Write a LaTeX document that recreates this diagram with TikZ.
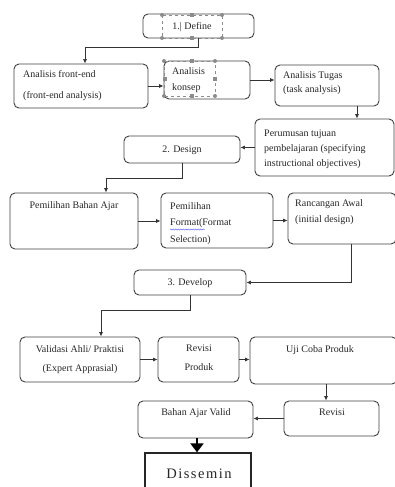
\documentclass[tikz,border=0pt]{standalone}
\usepackage{fontspec}
\setmainfont{Liberation Serif}
\usetikzlibrary{arrows.meta,decorations.pathmorphing}
\begin{document}
\begin{tikzpicture}[x=1pt,y=-1pt]
	\tikzstyle{every node}+=[inner sep=0pt, text=black!85]
	\tikzstyle{box}=[draw=black!75, line width=0.9pt, rounded corners=5pt]
	\tikzstyle{flow}=[draw=black!80, line width=0.7pt, -{Latex[length=4.5pt,width=4pt]}]
	\tikzstyle{sel}=[draw=black!45, dashed, line width=0.4pt]
	\tikzset{txt/.style={font=\fontsize{10}{#1}\selectfont, align=left},
		ctxt/.style={font=\fontsize{10}{#1}\selectfont, align=center}}
	\useasboundingbox (0,0) rectangle (395,487);
	\clip (0,0) rectangle (395,487);
	% define
	\node [box, minimum width=111, minimum height=24] (define) at (198.5,26) {};
	\node [ctxt=12] (defineT) at (192,27) {1.| Define};
	\draw [sel] (162,15) rectangle (222,38);
	\foreach \x in {162,222} \foreach \y in {15,38}
		\fill [black!45] (\x,\y) circle (2);
	\foreach \y in {15,38}
		\fill [black!45] (190,\y-2) rectangle (194,\y+2);
	\node [box, minimum width=134, minimum height=44] (fe) at (81,86) {};
	\node [txt=21, anchor=north west] (feT) at (23,70) {Analisis front-end\\(front-end analysis)};
	\node [box, minimum width=86, minimum height=38] (konsep) at (207,80) {};
	\node [txt=16, anchor=north west] (konsepT) at (172,67) {Analisis\\konsep};
	\draw [sel] (164,61) rectangle (215,96);
	\foreach \x in {164,215} \foreach \y in {61,96}
		\fill [black!45] (\x,\y) circle (2);
	\foreach \p in {(192,61),(192,96),(164.5,79),(215,79)}
		\fill [black!45] \p +(-2,-2) rectangle +(2,2);
	\node [box, minimum width=104, minimum height=41] (tugas) at (327,85.5) {};
	\node [txt=14, anchor=north west] (tugasT) at (283,71) {Analisis Tugas\\(task analysis)};
	\node [box, minimum width=139, minimum height=57] (rumus) at (324.5,147.5) {};
	\node [txt=15, anchor=north west] (rumusT) at (264,130) {Perumusan tujuan\\pembelajaran (specifying\\instructional objectives)};
	% design
	\node [box, minimum width=116, minimum height=27] (design) at (182,149.5) {};
	\node [ctxt=12] (designT) at (182,150) {2. Design};
	\node [box, minimum width=128, minimum height=56] (bahan) at (74,221) {};
	\node [ctxt=12] (bahanT) at (74,206) {Pemilihan Bahan Ajar};
	\node [box, minimum width=112, minimum height=55] (format) at (217,220.5) {};
	\node [txt=16.5, anchor=north west] (formatT) at (170,202) {Pemilihan\\Format(Format\\Selection)};
	\draw [blue!70, line width=0.4pt, decorate, decoration={snake, amplitude=0.6pt, segment length=2.5pt}] (170,229.5) -- (205,229.5);
	\node [box, minimum width=108, minimum height=51] (rancang) at (342,218.5) {};
	\node [txt=16, anchor=north west] (rancangT) at (295,199) {Rancangan Awal\\(initial design)};
	% develop
	\node [box, minimum width=112, minimum height=25] (develop) at (190,282.5) {};
	\node [ctxt=12] (developT) at (190,283) {3. Develop};
	\node [box, minimum width=120, minimum height=45] (validasi) at (80,359.5) {};
	\node [ctxt=19, anchor=north] (validasiT) at (80,345) {Validasi Ahli/ Praktisi\\(Expert Apprasial)};
	\node [box, minimum width=81, minimum height=45] (revprod) at (198.5,359.5) {};
	\node [ctxt=19, anchor=north] (revprodT) at (199,345) {Revisi\\Produk};
	\node [box, minimum width=147, minimum height=47] (uji) at (323.5,360.5) {};
	\node [ctxt=12] (ujiT) at (320,350) {Uji Coba Produk};
	\node [box, minimum width=95, minimum height=35] (revisi) at (331.5,418.5) {};
	\node [ctxt=12] (revisiT) at (332,412) {Revisi};
	\node [box, minimum width=115, minimum height=37] (valid) at (195.5,419.5) {};
	\node [ctxt=12] (validT) at (196,413) {Bahan Ajar Valid};
	% disseminate
	\node [draw=black!85, line width=1.3pt, minimum width=106, minimum height=44] (dissem) at (198,475) {};
	\node [font=\fontsize{14.5}{18}\selectfont] (dissemT) at (199,474) {D\kern1.5pt i\kern1.5pt s\kern1.5pt s\kern1.5pt e\kern1.5pt m\kern1.5pt i\kern1.5pt n};
	% arrows
	\draw [flow] (define.south) -- ++(0,9) -| ([xshift=4pt]fe.north);
	\draw [flow] (fe.east) -- (fe.east -| konsep.west);
	\draw [flow] (konsep.east) -- (konsep.east -| tugas.west);
	\draw [flow] ([xshift=30pt]tugas.south) -- ([xshift=30pt]tugas.south |- rumus.north);
	\draw [flow] (rumus.west) -- (rumus.west -| design.east);
	\draw [flow] (design.south) -- ++(0,15) -| ([xshift=32pt]bahan.north);
	\draw [flow] (bahan.east) -- (bahan.east -| format.west);
	\draw [flow] (format.east) -- (format.east -| rancang.west);
	\draw [flow] ([xshift=9pt]rancang.south) |- (develop.east);
	\draw [flow] (develop.south) -- ++(0,15) -| ([xshift=21pt]validasi.north);
	\draw [flow] (validasi.east) -- (validasi.east -| revprod.west);
	\draw [flow] (revprod.east) -- (revprod.east -| uji.west);
	\draw [flow] ([xshift=2.5pt]uji.south) -- ([xshift=2.5pt]uji.south |- revisi.north);
	\draw [flow] (revisi.west) -- (revisi.west -| valid.east);
	\draw [black, line width=2pt, -{Triangle[length=9pt,width=13pt]}] ([xshift=1.5pt]valid.south) -- ([xshift=1.5pt]valid.south |- dissem.north);
\end{tikzpicture}
\end{document}
